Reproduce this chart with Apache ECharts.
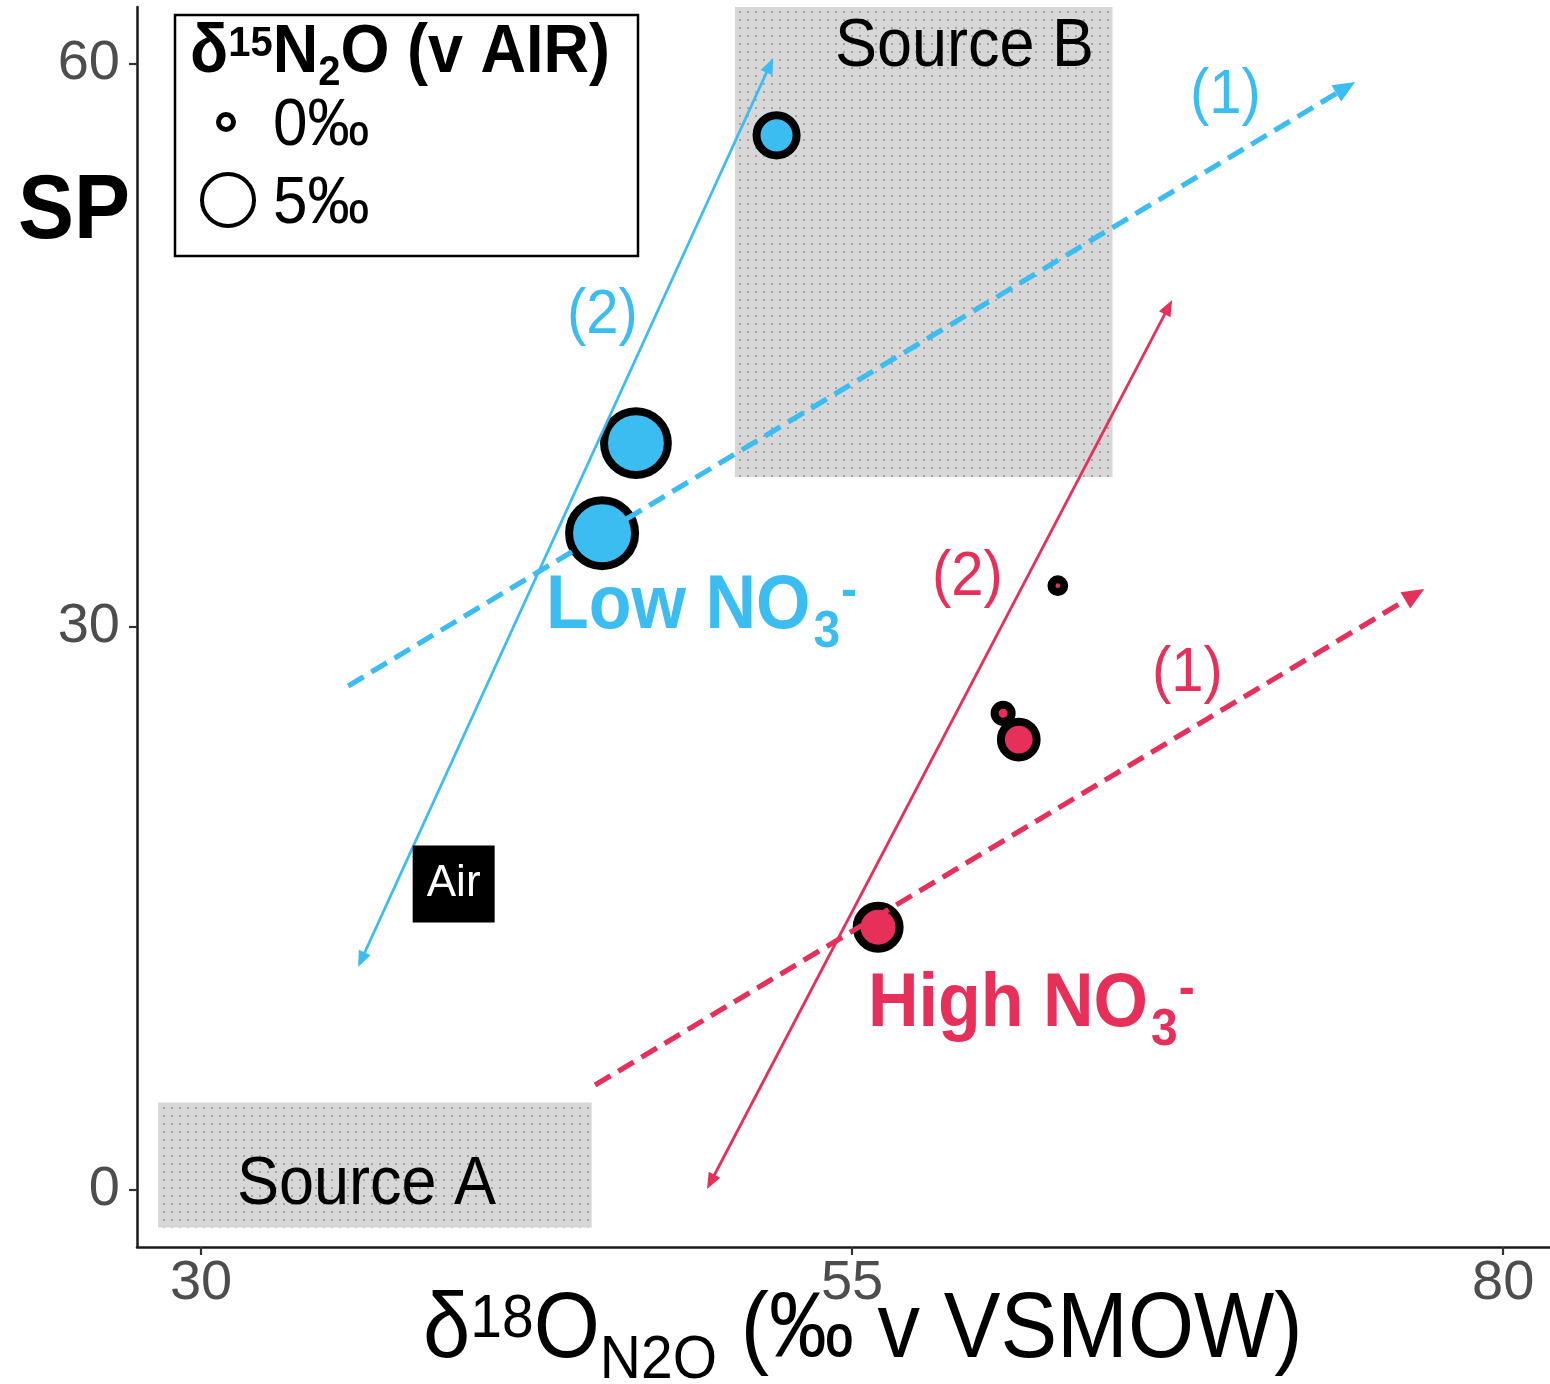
<!DOCTYPE html>
<html>
<head>
<meta charset="utf-8">
<script src="https://cdn.jsdelivr.net/npm/echarts@6/dist/echarts.min.js"></script>
<style>
  html, body { margin: 0; padding: 0; background: #fff; }
  #chart { width: 1550px; height: 1384px; }
</style>
</head>
<body>
<div id="chart"></div>
<script>
// axis ranges and ticks
const xMin = 27.54, xMax = 81.8;
const yMin = -3.04, yMax = 63.04;
const xTicks = [30, 55, 80];
const yTicks = [0, 30, 60];

// samples: d18O, SP, d15N (sets the bubble size)
const lowX = [52.1, 46.7, 45.4];
const lowY = [56.2, 39.8, 35.0];
const lowD15N = [3.9, 7.2, 7.5];
const highX = [62.9, 60.8, 61.4, 56.0];
const highY = [32.2, 25.4, 24.0, 14.0];
const highD15N = [0.1, 0.7, 3.3, 4.3];

// air reference
const airX = [39.7];
const airY = [16.3];

// source boxes
const sourceX0 = [28.35, 50.5];
const sourceX1 = [45.0, 65.0];
const sourceY0 = [-2.0, 38.0];
const sourceY1 = [4.66, 63.04];

// process arrows, (1) dashed, (2) solid both-ended
const lowArrowX1 = [35.65, 36.03];
const lowArrowY1 = [26.86, 11.88];
const lowArrowX2 = [74.32, 51.97];
const lowArrowY2 = [59.04, 60.32];
const highArrowX1 = [45.13, 49.43];
const highArrowY1 = [5.59, 0.05];
const highArrowX2 = [76.97, 67.29];
const highArrowY2 = [32.02, 47.42];

const BLUE = '#3bbdf2';
const RED = '#e6305a';
const FONT = '"Liberation Sans", Arial, sans-serif';
const BORDER = 8;
const STRETCH = 1.08; // reference lettering is a bit taller than wide

// outer radius of a bubble for a d15N value
function outerR(d) { return 10 + 3.6 * d; }
function symSize(d) { return 2 * (outerR(d) - BORDER / 2); }

// dotted grey fill for the source boxes
const pat = document.createElement('canvas');
pat.width = 8; pat.height = 8;
const pc = pat.getContext('2d');
pc.fillStyle = '#d7d7d7';
pc.fillRect(0, 0, 8, 8);
pc.fillStyle = '#a3a3a3';
pc.fillRect(3, 3, 2, 2);

// text runs with sub/superscripts, placed on a baseline
const mctx = document.createElement('canvas').getContext('2d');
function fontStr(size, weight) { return (weight || 'normal') + ' ' + size + 'px ' + FONT; }
function run(x, baseline, parts, color) {
  const out = [];
  let cx = x;
  parts.forEach(function (p) {
    const f = fontStr(p.size, p.weight);
    mctx.font = f;
    cx += p.dx || 0;
    const y = baseline + (p.dy || 0) - 0.3465 * p.size;
    out.push({
      type: 'text', x: cx, y: y, z: 100,
      scaleY: STRETCH, originX: 0, originY: 0.3465 * p.size,
      style: { text: p.t, font: f, fill: color, align: 'left', verticalAlign: 'middle' }
    });
    cx += mctx.measureText(p.t).width;
  });
  return out;
}

function zip3(a, b, c) { return a.map(function (v, i) { return [v, b[i], c[i]]; }); }
function zip4(a, b, c, d) { return a.map(function (v, i) { return [v, b[i], c[i], d[i]]; }); }

function head(tip, ux, uy, L, W) {
  const bx = tip[0] - ux * L, by = tip[1] - uy * L;
  return [tip, [bx - uy * W / 2, by + ux * W / 2], [bx + uy * W / 2, by - ux * W / 2]];
}

function arrowRenderer(color) {
  return function (params, api) {
    const a = api.coord([api.value(0), api.value(1)]);
    const b = api.coord([api.value(2), api.value(3)]);
    const dashed = params.dataIndex === 0;
    const both = params.dataIndex === 1;
    const L = dashed ? 22 : 16, W = dashed ? 19 : 13;
    const len = Math.hypot(b[0] - a[0], b[1] - a[1]);
    const ux = (b[0] - a[0]) / len, uy = (b[1] - a[1]) / len;
    const s = both ? [a[0] + ux * L * 0.6, a[1] + uy * L * 0.6] : a;
    const e = [b[0] - ux * L * 0.6, b[1] - uy * L * 0.6];
    const children = [{
      type: 'line',
      shape: { x1: s[0], y1: s[1], x2: e[0], y2: e[1] },
      style: { stroke: color, lineWidth: dashed ? 5.2 : 2.8, lineDash: dashed ? [18, 9] : null }
    }, {
      type: 'polygon', shape: { points: head(b, ux, uy, L, W) }, style: { fill: color }
    }];
    if (both) {
      children.push({ type: 'polygon', shape: { points: head(a, -ux, -uy, L, W) }, style: { fill: color } });
    }
    return { type: 'group', children: children };
  };
}

const graphics = [].concat(
  [{
    type: 'rect', z: 90, shape: { x: 175, y: 15, width: 463, height: 241 },
    style: { fill: '#fff', stroke: '#000', lineWidth: 2.5 }
  }, {
    type: 'circle', z: 100, shape: { cx: 226, cy: 122, r: outerR(0) - 2.5 },
    style: { fill: '#fff', stroke: '#000', lineWidth: 5 }
  }, {
    type: 'circle', z: 100, shape: { cx: 228, cy: 200, r: outerR(5) - 2 },
    style: { fill: '#fff', stroke: '#000', lineWidth: 4 }
  }],
  run(190, 77, [
    { t: 'δ', size: 63, weight: 'bold' },
    { t: '15', size: 40, weight: 'bold', dy: -18 },
    { t: 'N', size: 63, weight: 'bold' },
    { t: '2', size: 40, weight: 'bold', dy: 11 },
    { t: 'O (v AIR)', size: 63, weight: 'bold' }
  ], '#000'),
  run(273, 150, [{ t: '0‰', size: 62 }], '#000'),
  run(273, 228, [{ t: '5‰', size: 62 }], '#000'),
  run(18, 244, [{ t: 'SP', size: 84, weight: 'bold' }], '#000'),
  run(835, 71, [{ t: 'Source B', size: 63 }], '#000'),
  run(237, 1209, [{ t: 'Source A', size: 63 }], '#000'),
  run(1190, 117, [{ t: '(1)', size: 58 }], BLUE),
  run(567, 337, [{ t: '(2)', size: 58 }], BLUE),
  run(932, 599, [{ t: '(2)', size: 58 }], RED),
  run(1152, 695, [{ t: '(1)', size: 58 }], RED),
  run(546, 633, [
    { t: 'Low NO', size: 70, weight: 'bold' },
    { t: '3', size: 48, weight: 'bold', dy: 18, dx: 3 },
    { t: '-', size: 48, weight: 'bold', dy: -23, dx: 1 }
  ], BLUE),
  run(868, 1031, [
    { t: 'High NO', size: 70, weight: 'bold' },
    { t: '3', size: 48, weight: 'bold', dy: 18, dx: 3 },
    { t: '-', size: 48, weight: 'bold', dy: -23, dx: 1 }
  ], RED),
  run(423, 1363, [
    { t: 'δ', size: 85 },
    { t: '18', size: 57, dy: -22 },
    { t: 'O', size: 85 },
    { t: 'N2O', size: 57, dy: 19 },
    { t: ' (‰ v VSMOW)', size: 85 }
  ], '#000')
);

const chart = echarts.init(document.getElementById('chart'));
chart.setOption({
  animation: false,
  backgroundColor: '#fff',
  grid: { left: 137, right: 0, top: 7, bottom: 137, containLabel: false },
  xAxis: {
    type: 'value', min: xMin, max: xMax,
    axisLine: { onZero: false, lineStyle: { color: '#1a1a1a', width: 2.5 } },
    axisTick: { show: true, length: 8, customValues: xTicks, lineStyle: { color: '#333', width: 2.2 } },
    axisLabel: { customValues: xTicks, fontSize: 56, color: '#4d4d4d', margin: 9, fontFamily: FONT },
    splitLine: { show: false }
  },
  yAxis: {
    type: 'value', min: yMin, max: yMax,
    axisLine: { onZero: false, lineStyle: { color: '#1a1a1a', width: 2.5 } },
    axisTick: { show: true, length: 8, customValues: yTicks, lineStyle: { color: '#333', width: 2.2 } },
    axisLabel: { customValues: yTicks, fontSize: 56, color: '#4d4d4d', margin: 17, fontFamily: FONT },
    splitLine: { show: false }
  },
  series: [
    {
      name: 'sources', type: 'custom', z: 1,
      data: zip4(sourceX0, sourceY0, sourceX1, sourceY1),
      encode: { x: [0, 2], y: [1, 3] },
      renderItem: function (params, api) {
        const p0 = api.coord([api.value(0), api.value(3)]);
        const p1 = api.coord([api.value(2), api.value(1)]);
        return {
          type: 'rect',
          shape: { x: p0[0], y: p0[1], width: p1[0] - p0[0], height: p1[1] - p0[1] },
          style: { fill: { image: pat, repeat: 'repeat' } }
        };
      }
    },
    {
      name: 'Low NO3-', type: 'scatter', z: 3,
      data: zip3(lowX, lowY, lowD15N),
      symbolSize: function (v) { return symSize(v[2]); },
      itemStyle: { color: BLUE, borderColor: '#000', borderWidth: BORDER, opacity: 1 },
      emphasis: { disabled: true }
    },
    {
      name: 'High NO3-', type: 'scatter', z: 3,
      data: zip3(highX, highY, highD15N),
      symbolSize: function (v) { return symSize(v[2]); },
      itemStyle: { color: RED, borderColor: '#000', borderWidth: BORDER, opacity: 1 },
      emphasis: { disabled: true }
    },
    {
      name: 'low arrows', type: 'custom', z: 4,
      data: zip4(lowArrowX1, lowArrowY1, lowArrowX2, lowArrowY2),
      encode: { x: [0, 2], y: [1, 3] },
      renderItem: arrowRenderer(BLUE)
    },
    {
      name: 'high arrows', type: 'custom', z: 4,
      data: zip4(highArrowX1, highArrowY1, highArrowX2, highArrowY2),
      encode: { x: [0, 2], y: [1, 3] },
      renderItem: arrowRenderer(RED)
    },
    {
      name: 'Air', type: 'scatter', z: 5,
      data: airX.map(function (v, i) { return [v, airY[i]]; }),
      symbol: 'rect', symbolSize: [82, 77],
      itemStyle: { color: '#000', opacity: 1 },
      label: { show: true, position: 'inside', formatter: 'Air', color: '#fff', fontSize: 44, fontFamily: FONT },
      emphasis: { disabled: true }
    }
  ],
  graphic: graphics
});
</script>
</body>
</html>
